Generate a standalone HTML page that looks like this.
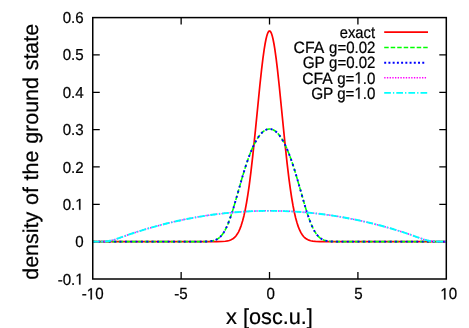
<!DOCTYPE html>
<html><head><meta charset="utf-8"><title>plot</title>
<style>
html,body{margin:0;padding:0;background:#fff;}
body{width:469px;height:328px;overflow:hidden;}
svg{display:block;}
text{font-family:"Liberation Sans",sans-serif;fill:#000;text-rendering:geometricPrecision;stroke:#000;stroke-width:0.22px;}
.tk text{font-size:15.4px;}
.lg text{font-size:15.4px;}
.ax{font-size:21.7px;}
.fr path{fill:none;stroke:#000;stroke-width:1.3;}.fr rect{fill:none;stroke:#000;stroke-width:1.5;}
.cv path,.lg>path{fill:none;stroke-width:1.7;stroke-linejoin:round;}
.h{fill:none;stroke:none;}
svg path.g1{fill:#000;stroke:#000;stroke-width:30;stroke-dasharray:none;}
svg path.c0{stroke:#ff0000;}
svg path.c1{stroke:#00ff00;stroke-dasharray:4.5 2.0;stroke-width:1.6;}
svg path.c2{stroke:#0000ff;stroke-dasharray:1.97 2.26;stroke-width:1.9;}
svg path.c3{stroke:#ff00ff;stroke-dasharray:1.35 1.35;stroke-width:1.5;}
svg path.c4{stroke:#00ffff;stroke-dasharray:6.7 2.05 1.3 2.05;stroke-width:1.9;}
</style></head><body>
<svg width="469" height="328" viewBox="0 0 469 328">
<defs><filter id="b" x="0" y="0" width="469" height="328" filterUnits="userSpaceOnUse"><feGaussianBlur stdDeviation="0.3"/></filter></defs>
<rect x="0" y="0" width="469" height="328" fill="#fff"/>
<g filter="url(#b)">
<g class="fr"><path d="M181.14,279.0 v-7.0 M181.14,17.6 v7.0"/><path d="M269.52,279.0 v-7.0 M269.52,17.6 v7.0"/><path d="M357.91,279.0 v-7.0 M357.91,17.6 v7.0"/><path d="M92.75,54.94 h7.0 M446.3,54.94 h-7.0"/><path d="M92.75,92.29 h7.0 M446.3,92.29 h-7.0"/><path d="M92.75,129.63 h7.0 M446.3,129.63 h-7.0"/><path d="M92.75,166.97 h7.0 M446.3,166.97 h-7.0"/><path d="M92.75,204.31 h7.0 M446.3,204.31 h-7.0"/><path d="M92.75,241.66 h7.0 M446.3,241.66 h-7.0"/></g>
<g class="tk"><text transform="translate(83.7,23.15) scale(0.98,1.03)" text-anchor="end">0.6</text><text transform="translate(83.7,60.49) scale(0.98,1.03)" text-anchor="end">0.5</text><text transform="translate(83.7,97.84) scale(0.98,1.03)" text-anchor="end">0.4</text><text transform="translate(83.7,135.18) scale(0.98,1.03)" text-anchor="end">0.3</text><text transform="translate(83.7,172.52) scale(0.98,1.03)" text-anchor="end">0.2</text><g transform="translate(83.7,209.86) scale(0.98,1.03)"><text  text-anchor="end">0.<tspan class="h">1</tspan></text><path class="g1" transform="translate(-8.578,0.000) scale(0.007520,-0.007520)" d="M515,0 L515,1237 L197,1010 L197,1180 L530,1409 L696,1409 L696,0 Z"/></g><text transform="translate(83.7,247.21) scale(0.98,1.03)" text-anchor="end">0</text><g transform="translate(83.7,284.55) scale(0.98,1.03)"><text  text-anchor="end">-0.<tspan class="h">1</tspan></text><path class="g1" transform="translate(-8.578,0.000) scale(0.007520,-0.007520)" d="M515,0 L515,1237 L197,1010 L197,1180 L530,1409 L696,1409 L696,0 Z"/></g><g transform="translate(92.65,299.4) scale(0.98,1.05)"><text  text-anchor="middle">-<tspan class="h">1</tspan>0</text><path class="g1" transform="translate(-6.000,0.000) scale(0.007520,-0.007520)" d="M515,0 L515,1237 L197,1010 L197,1180 L530,1409 L696,1409 L696,0 Z"/></g><text transform="translate(181.04,299.4) scale(0.98,1.05)" text-anchor="middle">-5</text><text transform="translate(270.72,299.4) scale(0.98,1.05)" text-anchor="middle">0</text><text transform="translate(358.51,299.4) scale(0.98,1.05)" text-anchor="middle">5</text><g transform="translate(448.70,299.4) scale(0.98,1.05)"><text  text-anchor="middle"><tspan class="h">1</tspan>0</text><path class="g1" transform="translate(-8.562,0.000) scale(0.007520,-0.007520)" d="M515,0 L515,1237 L197,1010 L197,1180 L530,1409 L696,1409 L696,0 Z"/></g></g>
<g class="cv">
<path class="c0" d="M92.75,241.66 L216.93,241.63 L222.24,241.49 L225.33,241.25 L227.54,240.91 L229.31,240.47 L230.63,239.99 L231.96,239.35 L233.29,238.51 L234.61,237.40 L235.94,235.96 L237.26,234.12 L238.59,231.80 L239.92,228.92 L241.24,225.37 L242.57,221.07 L243.89,215.92 L245.22,209.85 L246.54,202.78 L247.87,194.68 L249.20,185.52 L250.96,171.70 L252.73,156.21 L255.38,130.56 L259.80,85.97 L261.57,69.59 L262.90,58.61 L264.22,49.11 L265.11,43.74 L265.99,39.23 L266.87,35.66 L267.32,34.24 L267.76,33.07 L268.20,32.15 L268.64,31.50 L269.08,31.10 L269.52,30.97 L269.97,31.10 L270.41,31.50 L270.85,32.15 L271.29,33.07 L271.73,34.24 L272.18,35.66 L273.06,39.23 L273.94,43.74 L274.83,49.11 L276.15,58.61 L277.48,69.59 L279.25,85.97 L284.99,143.68 L287.20,164.15 L288.97,178.83 L290.30,188.69 L291.62,197.50 L292.95,205.25 L294.27,211.98 L295.60,217.74 L296.93,222.59 L298.25,226.63 L299.58,229.95 L300.90,232.63 L302.23,234.78 L303.55,236.48 L304.88,237.80 L306.21,238.81 L307.53,239.59 L308.86,240.17 L310.63,240.71 L312.83,241.14 L315.49,241.41 L319.91,241.59 L334.49,241.66 L446.30,241.66"/>
<path class="c1" d="M92.75,241.66 L201.91,241.63 L207.21,241.48 L210.31,241.22 L212.52,240.86 L214.28,240.40 L216.05,239.73 L217.38,239.04 L218.70,238.15 L220.03,237.04 L221.35,235.66 L222.68,233.99 L224.01,231.99 L225.33,229.66 L226.66,226.96 L227.98,223.91 L229.75,219.32 L231.52,214.18 L233.73,207.11 L237.26,194.88 L242.12,177.80 L244.78,169.04 L246.99,162.26 L249.20,156.05 L251.41,150.46 L253.17,146.44 L254.94,142.84 L256.71,139.66 L258.48,136.90 L259.80,135.11 L261.13,133.54 L262.45,132.21 L263.78,131.11 L265.11,130.23 L266.43,129.59 L267.76,129.17 L269.08,128.98 L270.41,129.02 L271.73,129.29 L273.06,129.78 L274.39,130.50 L275.71,131.45 L277.04,132.63 L278.36,134.04 L279.69,135.68 L281.46,138.23 L283.23,141.20 L284.99,144.59 L286.76,148.40 L288.97,153.74 L291.18,159.71 L293.39,166.26 L296.04,174.81 L300.02,188.60 L304.44,204.13 L307.09,212.81 L308.86,218.08 L310.63,222.82 L311.95,225.99 L313.28,228.80 L314.60,231.25 L315.93,233.36 L317.25,235.14 L318.58,236.61 L319.91,237.81 L321.23,238.76 L322.56,239.52 L324.33,240.26 L326.09,240.77 L328.30,241.17 L331.40,241.46 L336.26,241.62 L372.94,241.66 L446.30,241.66"/>
<path class="c2" style="stroke-dasharray:2.0 3.35" d="M92.75,241.66 L201.91,241.63 L207.21,241.48 L210.31,241.22 L212.52,240.86 L214.28,240.40 L216.05,239.73 L217.38,239.04 L218.70,238.15 L220.03,237.04 L221.35,235.66 L222.68,233.99 L224.01,231.99 L225.33,229.66 L226.66,226.96 L227.98,223.91 L229.75,219.32 L231.52,214.18 L233.73,207.11 L237.26,194.88 L242.12,177.80 L244.78,169.04 L246.99,162.26 L249.20,156.05 L251.41,150.46 L253.17,146.44 L254.94,142.84 L256.71,139.66 L258.48,136.90 L259.80,135.11 L261.13,133.54 L262.45,132.21 L263.78,131.11 L265.11,130.23 L266.43,129.59 L267.76,129.17 L269.08,128.98 L270.41,129.02 L271.73,129.29 L273.06,129.78 L274.39,130.50 L275.71,131.45 L277.04,132.63 L278.36,134.04 L279.69,135.68 L281.46,138.23 L283.23,141.20 L284.99,144.59 L286.76,148.40 L288.97,153.74 L291.18,159.71 L293.39,166.26 L296.04,174.81 L300.02,188.60 L304.44,204.13 L307.09,212.81 L308.86,218.08 L310.63,222.82 L311.95,225.99 L313.28,228.80 L314.60,231.25 L315.93,233.36 L317.25,235.14 L318.58,236.61 L319.91,237.81 L321.23,238.76 L322.56,239.52 L324.33,240.26 L326.09,240.77 L328.30,241.17 L331.40,241.46 L336.26,241.62 L372.94,241.66 L446.30,241.66"/>
<path class="c3" d="M92.75,241.66 L101.59,241.58 L105.57,241.38 L108.66,241.02 L111.31,240.51 L114.40,239.68 L118.82,238.18 L129.43,234.37 L138.27,231.46 L147.99,228.50 L157.71,225.78 L167.44,223.29 L177.16,221.03 L186.88,219.00 L196.61,217.19 L206.33,215.60 L216.05,214.25 L225.77,213.12 L235.50,212.21 L245.22,211.54 L254.94,211.08 L264.66,210.86 L274.39,210.86 L284.11,211.08 L293.83,211.54 L303.55,212.21 L313.28,213.12 L323.00,214.25 L332.72,215.60 L342.44,217.19 L352.17,219.00 L361.89,221.03 L371.61,223.29 L381.34,225.78 L391.06,228.50 L400.78,231.46 L409.62,234.37 L423.32,239.26 L426.41,240.18 L429.06,240.79 L431.72,241.20 L434.81,241.47 L439.67,241.63 L446.30,241.66"/>
<path class="c4" d="M92.75,241.66 L101.59,241.58 L105.57,241.38 L108.66,241.02 L111.31,240.51 L114.40,239.68 L118.82,238.18 L129.43,234.37 L138.27,231.46 L147.99,228.50 L157.71,225.78 L167.44,223.29 L177.16,221.03 L186.88,219.00 L196.61,217.19 L206.33,215.60 L216.05,214.25 L225.77,213.12 L235.50,212.21 L245.22,211.54 L254.94,211.08 L264.66,210.86 L274.39,210.86 L284.11,211.08 L293.83,211.54 L303.55,212.21 L313.28,213.12 L323.00,214.25 L332.72,215.60 L342.44,217.19 L352.17,219.00 L361.89,221.03 L371.61,223.29 L381.34,225.78 L391.06,228.50 L400.78,231.46 L409.62,234.37 L423.32,239.26 L426.41,240.18 L429.06,240.79 L431.72,241.20 L434.81,241.47 L439.67,241.63 L446.30,241.66"/>
</g>
<g class="fr"><rect x="92.75" y="17.6" width="353.55" height="261.4"/></g>
<g class="lg"><text transform="translate(375.0,37.95) scale(0.957,1.06)" text-anchor="end">exact</text><path class="c0" d="M384.2,32.2 H428"/><text transform="translate(324.3,53.15) scale(1.025,1.06)" text-anchor="end">CFA</text><text transform="translate(375.4,53.15) scale(0.975,1.06)" text-anchor="end">g=0.02</text><path class="c1" d="M384.2,47.5 H428"/><text transform="translate(324.9,68.35) scale(1.0,1.06)" text-anchor="end">GP</text><text transform="translate(375.4,68.35) scale(0.975,1.06)" text-anchor="end">g=0.02</text><path class="c2" d="M384.2,62.7 H424.6"/><text transform="translate(332.8,83.55) scale(1.02,1.06)" text-anchor="end">CFA</text><g transform="translate(375.4,83.55) scale(0.98,1.06)"><text  text-anchor="end">g=<tspan class="h">1</tspan>.0</text><path class="g1" transform="translate(-21.406,0.000) scale(0.007520,-0.007520)" d="M515,0 L515,1237 L197,1010 L197,1180 L530,1409 L696,1409 L696,0 Z"/></g><path class="c3" d="M384.2,77.75 H427"/><text transform="translate(333.4,98.75) scale(1.0,1.06)" text-anchor="end">GP</text><g transform="translate(375.4,98.75) scale(0.98,1.06)"><text  text-anchor="end">g=<tspan class="h">1</tspan>.0</text><path class="g1" transform="translate(-21.406,0.000) scale(0.007520,-0.007520)" d="M515,0 L515,1237 L197,1010 L197,1180 L530,1409 L696,1409 L696,0 Z"/></g><path class="c4" d="M384.2,92.9 H428"/></g>
<text class="ax" x="269.5" y="324.3" text-anchor="middle">x [osc.u.]</text>
<text class="ax" style="font-size:21.45px;word-spacing:0.8px" transform="translate(37.6,151.8) rotate(-90)" text-anchor="middle">density of the ground state</text>
</g>
</svg>
</body></html>
